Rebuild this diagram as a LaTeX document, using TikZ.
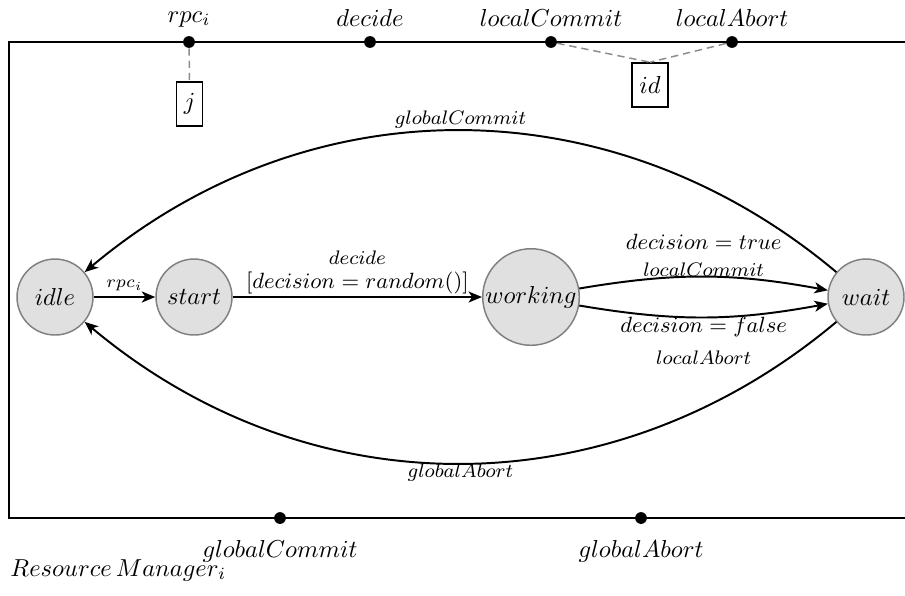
\documentclass[tikz,border=0pt]{standalone}
\usetikzlibrary{arrows.meta}
\begin{document}
\begin{tikzpicture}[x=0.408pt, y=-0.408pt,
  state/.style={circle, draw=black!50, semithick, fill=black!12, inner sep=0.5pt, minimum size=31pt},
  port/.style={circle, fill=black, inner sep=0pt, minimum size=4.8pt},
  param/.style={draw, semithick, inner sep=3pt, minimum height=18pt},
  tie/.style={draw=black!45, semithick, dash pattern=on 3pt off 2pt},
  trans/.style={thick, -{Stealth[length=5.5pt,width=4.5pt,inset=1.5pt]}},
  frame/.style={thick},
  lbl/.style={inner sep=0pt},
]
\useasboundingbox (0,0) rectangle (905,595);

% component frame, open to the right
\draw[frame] (905,42) -- (9,42) -- (9,518) -- (905,518);

% ports on the frame
\node[port, label=above:$rpc_i$] (pRpc) at (189,42) {};
\node[port, label=above:$decide$] (pDecide) at (370,42) {};
\node[port, label=above:$localCommit$] (pLC) at (551,42) {};
\node[port, label=above:$localAbort$] (pLA) at (732,42) {};
\node[port, label={[label distance=3pt]below:$globalCommit$}] (pGC) at (280,518) {};
\node[port, label={[label distance=3pt]below:$globalAbort$}] (pGA) at (641,518) {};

% port parameters
\node[param] (pj) at (189.5,104) {$j$};
\node[param] (pid) at (650,85) {$id$};
\draw[tie] (pRpc) -- (pj.north);
\draw[tie] (pLC) -- (pid.north);
\draw[tie] (pLA) -- (pid.north);

% states
\node[state] (idle) at (55,297) {$idle$};
\node[state] (start) at (194,297) {$start$};
\node[state, minimum size=37.6pt] (working) at (531,297) {$working$};
\node[state] (wait) at (866,297) {$wait$};

% transitions
\draw[trans] (idle) -- node[above, font=\scriptsize, inner sep=2pt] (lRpc) {$rpc_i$} (start);
\draw[trans] (start) --
  node[lbl, midway, yshift=5.7pt] (lGuard) {\small $[decision = random()]$}
  node[lbl, midway, yshift=16pt] (lDecide) {\footnotesize $decide$} (working);
\draw[trans] (working) to[bend left=10]
  node[lbl, midway, yshift=14.3pt] (lTrue) {\small $decision = true$}
  node[lbl, midway, yshift=2.9pt] (lLC) {\footnotesize $localCommit$} (wait);
\draw[trans] (working) to[bend right=10]
  node[lbl, midway, yshift=-4.1pt] (lFalse) {\small $decision = false$}
  node[lbl, midway, yshift=-16.3pt] (lLA) {\footnotesize $localAbort$} (wait);
\draw[trans] (wait) to[bend right=40]
  node[lbl, midway, yshift=4.5pt] (lGC) {\footnotesize $globalCommit$} (idle);
\draw[trans] (wait) to[bend left=40]
  node[lbl, midway, yshift=-3.7pt] (lGA) {\footnotesize $globalAbort$} (idle);

% component name
\node[anchor=base west, inner sep=0pt] (rm) at (10,576) {$Resource\,Manager_i$};
\end{tikzpicture}
\end{document}
